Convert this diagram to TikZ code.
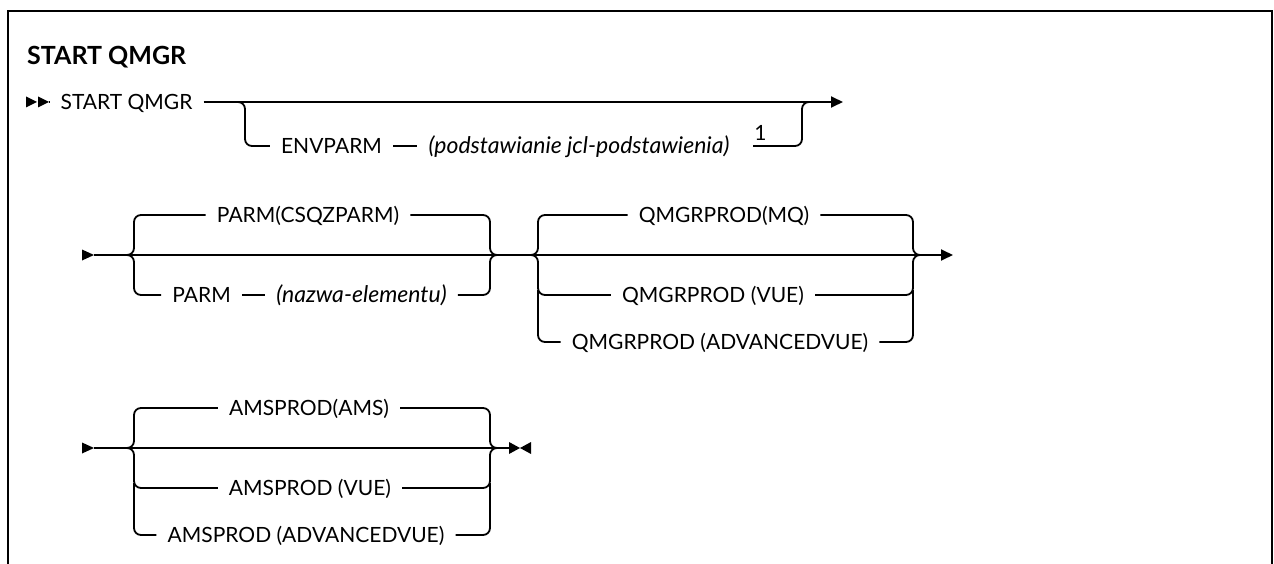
\documentclass[tikz,border=0pt]{standalone}
\usepackage{fontspec}
\setmainfont{Lato}
\usetikzlibrary{arrows.meta}
\begin{document}
\begin{tikzpicture}[x=1pt,y=-1pt,
  rail/.style={line width=1.8pt, line join=round},
  rc/.style={rounded corners=7pt},
  lbl/.style={inner xsep=11pt, inner ysep=0pt, text height=15pt, text depth=0pt,
              font=\fontsize{21}{25}\selectfont},
  var/.style={lbl, font=\fontsize{23}{27}\selectfont\itshape},
  endtip/.style={-{Triangle[length=12pt,width=11pt]}}
]
\useasboundingbox (0,0) rectangle (1274,564);

% frame
\draw[line width=2.6pt] (8,570) -- (8,11) -- (1272,11) -- (1272,570);

% title
\node[anchor=west, inner sep=0pt, text height=18pt, text depth=0pt,
      font=\fontsize{25}{30}\selectfont\bfseries] (title) at (27,56) {START QMGR};

% ---------- row 1: START QMGR [ENVPARM ...] ----------
\fill (26,96.5) -- (37,102) -- (26,107.5) -- cycle;
\fill (38,96.5) -- (49,102) -- (38,107.5) -- cycle;
\coordinate (r1s) at (49,102);
\coordinate (r1e) at (843,102);
\node[lbl] (sq) at (126.5,102) {START QMGR};
\draw[rail] (r1s) -- (sq.west);
\draw[rail,endtip] (sq.east) -- (r1e);

\coordinate (j1a) at (237,102);
\coordinate (j1b) at (810,102);
\node[lbl] (env) at (331.5,146) {ENVPARM};
\node[var] (jcl) at (579,146) {(podstawianie jcl-podstawienia)};
\node[lbl, inner xsep=0pt] (fn1) at (760.5,133) {1};
\coordinate (f1) at (753,146);
\draw[rail,rc] (j1a) -- (245,102) -- (245,146) -- (env.west);
\draw[rail] (env.east) -- (jcl.west);
\draw[rail,rc] (f1) -- (802,146) -- (802,102) -- (j1b);

% ---------- row 2: PARM group, QMGRPROD group ----------
\fill (82,249.5) -- (94,255) -- (82,260.5) -- cycle;
\coordinate (r2s) at (94,255);
\coordinate (r2e) at (953,255);
\draw[rail,endtip] (r2s) -- (r2e);

\coordinate (g1l) at (126,255);
\coordinate (g1r) at (498,255);
\node[lbl] (pcsq) at (308,215) {PARM(CSQZPARM)};
\node[lbl] (parm) at (201.5,295) {PARM};
\node[var] (nazwa) at (361.5,295) {(nazwa-elementu)};
\draw[rail,rc] (g1l) -- (134,255) -- (134,215) -- (pcsq.west);
\draw[rail,rc] (pcsq.east) -- (490,215) -- (490,255) -- (g1r);
\draw[rail,rc] (g1l) -- (134,255) -- (134,295) -- (parm.west);
\draw[rail] (parm.east) -- (nazwa.west);
\draw[rail,rc] (nazwa.east) -- (490,295) -- (490,255) -- (g1r);

\coordinate (g2l) at (530,255);
\coordinate (g2r) at (921,255);
\node[lbl] (qmq) at (724,215) {QMGRPROD(MQ)};
\node[lbl] (qvue) at (713,295) {QMGRPROD (VUE)};
\node[lbl] (qadv) at (720,342) {QMGRPROD (ADVANCEDVUE)};
\draw[rail,rc] (g2l) -- (538,255) -- (538,215) -- (qmq.west);
\draw[rail,rc] (qmq.east) -- (913,215) -- (913,255) -- (g2r);
\draw[rail,rc] (g2l) -- (538,255) -- (538,295) -- (qvue.west);
\draw[rail,rc] (qvue.east) -- (913,295) -- (913,255) -- (g2r);
\draw[rail,rc] (538,290) -- (538,342) -- (qadv.west);
\draw[rail,rc] (qadv.east) -- (913,342) -- (913,290);

% ---------- row 3: AMSPROD group ----------
\fill (82,442.5) -- (94,448) -- (82,453.5) -- cycle;
\coordinate (r3s) at (94,448);
\coordinate (r3e) at (509,448);
\draw[rail] (r3s) -- (r3e);
\fill (509,442) -- (520,448) -- (509,454) -- cycle;
\fill (531,442) -- (520,448) -- (531,454) -- cycle;

\coordinate (g3l) at (126,448);
\coordinate (g3r) at (498,448);
\node[lbl] (aams) at (309,408) {AMSPROD(AMS)};
\node[lbl] (avue) at (310,488) {AMSPROD (VUE)};
\node[lbl] (aadv) at (306,535) {AMSPROD (ADVANCEDVUE)};
\draw[rail,rc] (g3l) -- (134,448) -- (134,408) -- (aams.west);
\draw[rail,rc] (aams.east) -- (490,408) -- (490,448) -- (g3r);
\draw[rail,rc] (g3l) -- (134,448) -- (134,488) -- (avue.west);
\draw[rail,rc] (avue.east) -- (490,488) -- (490,448) -- (g3r);
\draw[rail,rc] (134,483) -- (134,535) -- (aadv.west);
\draw[rail,rc] (aadv.east) -- (490,535) -- (490,483);
\end{tikzpicture}
\end{document}
